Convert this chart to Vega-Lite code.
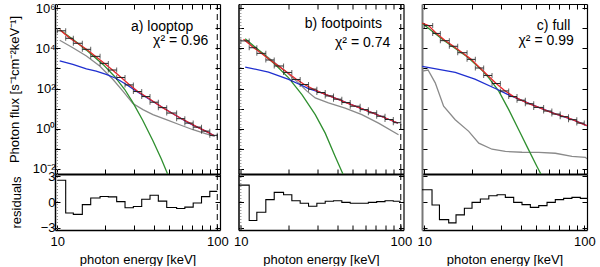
{
"$schema":"https://vega.github.io/schema/vega-lite/v6.json",
"autosize":"pad",
"padding":{"left":8,"top":2,"right":0,"bottom":0},
"spacing":4.5,
"datasets":{
"dot":[{"E":10}],
"dash":[{"E":100}],
"pts_a":[{"E":10.62,"lo":10,"hi":11.28,"F":74100},{"E":11.92,"lo":11.28,"hi":12.59,"F":31600},{"E":13.43,"lo":12.59,"hi":14.33,"F":17800},{"E":15.22,"lo":14.33,"hi":16.17,"F":8910},{"E":17.3,"lo":16.17,"hi":18.5,"F":3980},{"E":19.64,"lo":18.5,"hi":20.84,"F":1780},{"E":22.13,"lo":20.84,"hi":23.5,"F":832},{"E":24.96,"lo":23.5,"hi":26.5,"F":355},{"E":28.14,"lo":26.5,"hi":29.88,"F":151},{"E":31.73,"lo":29.88,"hi":33.7,"F":70.8},{"E":35.77,"lo":33.7,"hi":37.97,"F":39.8},{"E":40.31,"lo":37.97,"hi":42.8,"F":20.9},{"E":45.47,"lo":42.8,"hi":48.3,"F":11.2},{"E":51.87,"lo":48.3,"hi":55.7,"F":6.03},{"E":59.1,"lo":55.7,"hi":62.7,"F":3.16},{"E":66.58,"lo":62.7,"hi":70.7,"F":1.91},{"E":75.06,"lo":70.7,"hi":79.7,"F":1.2},{"E":84.6,"lo":79.7,"hi":89.8,"F":0.759},{"E":94.76,"lo":89.8,"hi":100,"F":0.468}],
"pts_b":[{"E":10.62,"lo":10,"hi":11.28,"F":23400},{"E":11.92,"lo":11.28,"hi":12.59,"F":10700},{"E":13.43,"lo":12.59,"hi":14.33,"F":5620},{"E":15.22,"lo":14.33,"hi":16.17,"F":2630},{"E":17.3,"lo":16.17,"hi":18.5,"F":1320},{"E":19.64,"lo":18.5,"hi":20.84,"F":631},{"E":22.13,"lo":20.84,"hi":23.5,"F":282},{"E":24.96,"lo":23.5,"hi":26.5,"F":158},{"E":28.14,"lo":26.5,"hi":29.88,"F":93.3},{"E":31.73,"lo":29.88,"hi":33.7,"F":63.1},{"E":35.77,"lo":33.7,"hi":37.97,"F":42.7},{"E":40.31,"lo":37.97,"hi":42.8,"F":29.5},{"E":45.47,"lo":42.8,"hi":48.3,"F":20},{"E":51.87,"lo":48.3,"hi":55.7,"F":13.2},{"E":59.1,"lo":55.7,"hi":62.7,"F":8.91},{"E":66.58,"lo":62.7,"hi":70.7,"F":6.17},{"E":75.06,"lo":70.7,"hi":79.7,"F":4.17},{"E":84.6,"lo":79.7,"hi":89.8,"F":2.88},{"E":94.76,"lo":89.8,"hi":100,"F":2.0}],
"pts_c":[{"E":10.62,"lo":10,"hi":11.28,"F":135000},{"E":11.92,"lo":11.28,"hi":12.59,"F":55000},{"E":13.43,"lo":12.59,"hi":14.33,"F":24000},{"E":15.22,"lo":14.33,"hi":16.17,"F":12600},{"E":17.3,"lo":16.17,"hi":18.5,"F":6030},{"E":19.64,"lo":18.5,"hi":20.84,"F":2820},{"E":22.13,"lo":20.84,"hi":23.5,"F":1050},{"E":24.96,"lo":23.5,"hi":26.5,"F":447},{"E":28.14,"lo":26.5,"hi":29.88,"F":178},{"E":31.73,"lo":29.88,"hi":33.7,"F":75.9},{"E":35.77,"lo":33.7,"hi":37.97,"F":39.8},{"E":40.31,"lo":37.97,"hi":42.8,"F":26.3},{"E":45.47,"lo":42.8,"hi":48.3,"F":17.4},{"E":51.87,"lo":48.3,"hi":55.7,"F":11.5},{"E":59.1,"lo":55.7,"hi":62.7,"F":7.59},{"E":66.58,"lo":62.7,"hi":70.7,"F":5.37},{"E":75.06,"lo":70.7,"hi":79.7,"F":3.98},{"E":84.6,"lo":79.7,"hi":89.8,"F":2.82},{"E":94.76,"lo":89.8,"hi":100,"F":1.91}],
"lines_a":[
{"c":"gray","E":10.35,"F":25100},{"c":"gray","E":12.5,"F":10700},{"c":"gray","E":15.2,"F":4170},{"c":"gray","E":18.4,"F":1320},{"c":"gray","E":22.3,"F":282},{"c":"gray","E":25.7,"F":74.1},{"c":"gray","E":29.7,"F":17.8},{"c":"gray","E":34.3,"F":8.91},{"c":"gray","E":39.6,"F":5.01},{"c":"gray","E":48,"F":2.82},{"c":"gray","E":58.2,"F":1.58},{"c":"gray","E":70.5,"F":0.891},{"c":"gray","E":85.3,"F":0.562},{"c":"gray","E":96.3,"F":0.417},
{"c":"green","E":10.35,"F":83200},{"c":"green","E":12.5,"F":28200},{"c":"green","E":15.2,"F":8130},{"c":"green","E":19.3,"F":1580},{"c":"green","E":22.8,"F":398},{"c":"green","E":26.4,"F":89.1},{"c":"green","E":29.7,"F":19.95},{"c":"green","E":34.3,"F":2.51},{"c":"green","E":39.6,"F":0.251},{"c":"green","E":44.7,"F":0.0316},{"c":"green","E":49.2,"F":0.00501},{"c":"green","E":53,"F":0.001},
{"c":"blue","E":10.35,"F":2340},{"c":"blue","E":12.5,"F":1580},{"c":"blue","E":15.2,"F":955},{"c":"blue","E":17.5,"F":741},{"c":"blue","E":20.2,"F":501},{"c":"blue","E":23.4,"F":316},{"c":"blue","E":27,"F":158},{"c":"blue","E":31.2,"F":74.1},{"c":"blue","E":40.31,"F":20.9},{"c":"blue","E":51.87,"F":6.03},{"c":"blue","E":66.58,"F":1.91},{"c":"blue","E":84.6,"F":0.759},{"c":"blue","E":96,"F":0.447},
{"c":"red","E":10.35,"F":83200},{"c":"red","E":11.92,"F":33100},{"c":"red","E":13.43,"F":17400},{"c":"red","E":15.22,"F":8910},{"c":"red","E":17.3,"F":3980},{"c":"red","E":19.64,"F":1820},{"c":"red","E":22.13,"F":832},{"c":"red","E":24.96,"F":363},{"c":"red","E":28.14,"F":158},{"c":"red","E":31.73,"F":72.4},{"c":"red","E":35.77,"F":39.8},{"c":"red","E":40.31,"F":21.4},{"c":"red","E":45.47,"F":11.2},{"c":"red","E":51.87,"F":6.03},{"c":"red","E":59.1,"F":3.31},{"c":"red","E":66.58,"F":2.0},{"c":"red","E":75.06,"F":1.2},{"c":"red","E":84.6,"F":0.759},{"c":"red","E":96,"F":0.447}],
"lines_b":[
{"c":"gray","E":10.65,"F":25100},{"c":"gray","E":14.9,"F":3390},{"c":"gray","E":18.95,"F":741},{"c":"gray","E":22.9,"F":191},{"c":"gray","E":25.9,"F":74.1},{"c":"gray","E":29.2,"F":33.9},{"c":"gray","E":35.3,"F":19.1},{"c":"gray","E":44.9,"F":10.7},{"c":"gray","E":57.1,"F":5.01},{"c":"gray","E":72.6,"F":1.91},{"c":"gray","E":96.8,"F":0.501},
{"c":"green","E":10.65,"F":30200},{"c":"green","E":13.55,"F":6030},{"c":"green","E":16.4,"F":1580},{"c":"green","E":19.9,"F":339},{"c":"green","E":24.1,"F":50.1},{"c":"green","E":29.2,"F":5.01},{"c":"green","E":33.7,"F":0.603},{"c":"green","E":38.9,"F":0.0417},{"c":"green","E":43.2,"F":0.00631},{"c":"green","E":46,"F":0.00158},
{"c":"blue","E":10.65,"F":1170},{"c":"blue","E":14.9,"F":661},{"c":"blue","E":19.9,"F":282},{"c":"blue","E":24.1,"F":141},{"c":"blue","E":26.5,"F":100},{"c":"blue","E":31.73,"F":63.1},{"c":"blue","E":40.31,"F":29.5},{"c":"blue","E":51.87,"F":13.2},{"c":"blue","E":66.58,"F":6.17},{"c":"blue","E":84.6,"F":2.88},{"c":"blue","E":96,"F":1.91},
{"c":"red","E":10.4,"F":28200},{"c":"red","E":11.92,"F":11200},{"c":"red","E":13.43,"F":5620},{"c":"red","E":15.22,"F":2630},{"c":"red","E":17.3,"F":1260},{"c":"red","E":19.64,"F":603},{"c":"red","E":22.13,"F":295},{"c":"red","E":24.96,"F":158},{"c":"red","E":28.14,"F":95.5},{"c":"red","E":31.73,"F":63.1},{"c":"red","E":35.77,"F":42.7},{"c":"red","E":40.31,"F":29.5},{"c":"red","E":45.47,"F":20},{"c":"red","E":51.87,"F":13.2},{"c":"red","E":59.1,"F":8.91},{"c":"red","E":66.58,"F":6.17},{"c":"red","E":75.06,"F":4.17},{"c":"red","E":84.6,"F":2.88},{"c":"red","E":96,"F":1.91}],
"lines_c":[
{"c":"gray","E":9.7,"F":741},{"c":"gray","E":10.55,"F":832},{"c":"gray","E":11.7,"F":191},{"c":"gray","E":13.2,"F":13.2},{"c":"gray","E":15.6,"F":2.82},{"c":"gray","E":18.95,"F":0.741},{"c":"gray","E":21.9,"F":0.191},{"c":"gray","E":26.5,"F":0.0955},{"c":"gray","E":32.1,"F":0.0741},{"c":"gray","E":40.8,"F":0.0676},{"c":"gray","E":51.9,"F":0.0661},{"c":"gray","E":65.9,"F":0.0603},{"c":"gray","E":83.8,"F":0.0417},{"c":"gray","E":101.6,"F":0.038},{"c":"gray","E":104,"F":0.0316},
{"c":"green","E":9.7,"F":174000},{"c":"green","E":13.2,"F":25100},{"c":"green","E":18.7,"F":3630},{"c":"green","E":23.2,"F":741},{"c":"green","E":25.3,"F":339},{"c":"green","E":29.2,"F":74.1},{"c":"green","E":33.7,"F":8.91},{"c":"green","E":38.9,"F":0.891},{"c":"green","E":44.9,"F":0.0891},{"c":"green","E":50.6,"F":0.0132},{"c":"green","E":53.9,"F":0.00501},{"c":"green","E":57,"F":0.00158},
{"c":"blue","E":9.7,"F":1260},{"c":"blue","E":15.6,"F":631},{"c":"blue","E":20.7,"F":295},{"c":"blue","E":27.8,"F":100},{"c":"blue","E":32.9,"F":52.5},{"c":"blue","E":40.31,"F":26.3},{"c":"blue","E":51.87,"F":11.5},{"c":"blue","E":66.58,"F":5.37},{"c":"blue","E":84.6,"F":2.82},{"c":"blue","E":104,"F":1.41},
{"c":"red","E":9.7,"F":178000},{"c":"red","E":10.62,"F":135000},{"c":"red","E":11.92,"F":55000},{"c":"red","E":13.43,"F":25100},{"c":"red","E":15.22,"F":12600},{"c":"red","E":17.3,"F":6030},{"c":"red","E":19.64,"F":2820},{"c":"red","E":22.13,"F":1120},{"c":"red","E":24.96,"F":447},{"c":"red","E":28.14,"F":178},{"c":"red","E":31.73,"F":79.4},{"c":"red","E":35.77,"F":41.7},{"c":"red","E":40.31,"F":26.3},{"c":"red","E":45.47,"F":17.4},{"c":"red","E":51.87,"F":11.5},{"c":"red","E":59.1,"F":7.59},{"c":"red","E":66.58,"F":5.37},{"c":"red","E":75.06,"F":3.98},{"c":"red","E":84.6,"F":2.82},{"c":"red","E":94.76,"F":1.91},{"c":"red","E":104,"F":1.41}],
"res_a":[{"E":10,"r":2.52},{"E":11.28,"r":-1.27},{"E":12.59,"r":-1.44},{"E":14.33,"r":-0.3},{"E":16.17,"r":0.46},{"E":18.5,"r":0.63},{"E":20.84,"r":0.6},{"E":23.5,"r":0.04},{"E":26.5,"r":-0.67},{"E":29.88,"r":-0.52},{"E":33.7,"r":0.32},{"E":37.97,"r":0.79},{"E":42.8,"r":0.1},{"E":48.3,"r":-0.63},{"E":55.7,"r":-0.75},{"E":62.7,"r":-0.6},{"E":70.7,"r":-0.12},{"E":79.7,"r":0.62},{"E":89.8,"r":1.23},{"E":100,"r":1.23}],
"res_b":[{"E":9.7,"r":1.96},{"E":11.28,"r":-2.15},{"E":12.59,"r":-1.19},{"E":14.33,"r":0.27},{"E":16.17,"r":1.12},{"E":18.5,"r":0.85},{"E":20.84,"r":0.15},{"E":23.5,"r":-0.15},{"E":26.5,"r":-0.5},{"E":29.88,"r":-0.15},{"E":33.7,"r":0.08},{"E":37.97,"r":0.15},{"E":42.8,"r":-0.04},{"E":48.3,"r":-0.15},{"E":55.7,"r":-0.15},{"E":62.7,"r":-0.04},{"E":70.7,"r":0.04},{"E":79.7,"r":0.15},{"E":89.8,"r":0.08},{"E":100,"r":0.08}],
"res_c":[{"E":9.67,"r":1.42},{"E":11.17,"r":-0.35},{"E":12.43,"r":-2.04},{"E":14.2,"r":-2.42},{"E":15.78,"r":-1.5},{"E":17.8,"r":-0.73},{"E":19.87,"r":-0.04},{"E":22.4,"r":0.35},{"E":25.3,"r":0.73},{"E":28.5,"r":0.85},{"E":32.1,"r":0.54},{"E":36.2,"r":-0.04},{"E":40.8,"r":-0.31},{"E":46,"r":-0.62},{"E":51.9,"r":-0.42},{"E":58.5,"r":-0.04},{"E":65.9,"r":0.27},{"E":74.3,"r":0.42},{"E":83.7,"r":0.54},{"E":94.5,"r":0.42},{"E":104,"r":0.42}],
"txt_a":[{"E":70.8,"F":112000,"t":"a) looptop"},{"E":87.9,"F":22400,"t":"χ² = 0.96"}],
"txt_b":[{"E":76.2,"F":158000,"t":"b) footpoints"},{"E":85.9,"F":19300,"t":"χ² = 0.74"}],
"txt_c":[{"E":81.8,"F":130000,"t":"c) full"},{"E":85.9,"F":23200,"t":"χ² = 0.99"}]
},
"hconcat":[
{"bounds":"flush","spacing":0,"vconcat":[
 {"width":165,"height":170,"resolve":{"axis":{"x":"independent","y":"independent"}},"layer":[
  {"data":{"name":"dot"},"mark":{"type":"rule","color":"#777","strokeDash":[1,2],"strokeWidth":1},"encoding":{"x":{"field":"E","type":"quantitative","scale":{"type":"log","domain":[9.67,104],"nice":false},"axis":null}}},
  {"data":{"name":"dash"},"mark":{"type":"rule","color":"#000","strokeDash":[6,4],"strokeWidth":1},"encoding":{"x":{"field":"E","type":"quantitative","scale":{"type":"log","domain":[9.67,104],"nice":false},"axis":null}}},
  {"data":{"name":"lines_a"},"mark":{"type":"line","clip":true,"strokeWidth":1.3},"encoding":{"x":{"field":"E","type":"quantitative","scale":{"type":"log","domain":[9.67,104],"nice":false},"axis":{"orient":"bottom","values":[10,20,30,40,50,60,70,80,90,100],"labels":false,"title":null,"tickSize":-5,"domainWidth":2}},"y":{"field":"F","type":"quantitative","scale":{"type":"log","domain":[0.0056,1600000],"nice":false},"axis":{"orient":"left","values":[0.01,0.1,1,10,100,1000,10000,100000,1000000],"labelExpr":"['10⁻²','','10⁰','','10²','','10⁴','','10⁶'][round(log(datum.value)/LN10)+2]","title":"Photon flux [s⁻¹cm⁻²keV⁻¹]","tickSize":-5,"labelPadding":5,"titlePadding":11,"domainWidth":1.5}},"color":{"field":"c","type":"nominal","scale":{"domain":["gray","green","blue","red"],"range":["#8a8a8a","#2f8f2f","#1f2fd0","#e8262a"]},"legend":null}}},
  {"data":{"name":"pts_a"},"mark":{"type":"rule","color":"#222","strokeWidth":1},"encoding":{"x":{"field":"lo","type":"quantitative","scale":{"type":"log","domain":[9.67,104],"nice":false},"axis":null},"x2":{"field":"hi"},"y":{"field":"F","type":"quantitative","scale":{"type":"log","domain":[0.0056,1600000],"nice":false},"axis":null}}},
  {"data":{"name":"pts_a"},"mark":{"type":"tick","orient":"vertical","size":5,"thickness":1,"color":"#222"},"encoding":{"x":{"field":"lo","type":"quantitative","scale":{"type":"log","domain":[9.67,104],"nice":false},"axis":null},"y":{"field":"F","type":"quantitative","scale":{"type":"log","domain":[0.0056,1600000],"nice":false},"axis":null}}},
  {"data":{"name":"pts_a"},"mark":{"type":"tick","orient":"vertical","size":5,"thickness":1,"color":"#222"},"encoding":{"x":{"field":"hi","type":"quantitative","scale":{"type":"log","domain":[9.67,104],"nice":false},"axis":null},"y":{"field":"F","type":"quantitative","scale":{"type":"log","domain":[0.0056,1600000],"nice":false},"axis":null}}},
  {"data":{"name":"txt_a"},"mark":{"type":"text","align":"right","baseline":"middle","fontSize":14,"font":"Liberation Sans","color":"#000"},"encoding":{"x":{"field":"E","type":"quantitative","scale":{"type":"log","domain":[9.67,104],"nice":false},"axis":null},"y":{"field":"F","type":"quantitative","scale":{"type":"log","domain":[0.0056,1600000],"nice":false},"axis":null},"text":{"field":"t"}}},
  {"data":{"name":"pts_a"},"mark":{"type":"point","opacity":0},"encoding":{"x":{"field":"E","type":"quantitative","scale":{"type":"log","domain":[9.67,104],"nice":false},"axis":{"orient":"top","values":[10,20,30,40,50,60,70,80,90,100],"labels":false,"title":null,"tickSize":-5,"domainWidth":1.2}},"y":{"field":"F","type":"quantitative","scale":{"type":"log","domain":[0.0056,1600000],"nice":false},"axis":{"orient":"right","values":[0.01,0.1,1,10,100,1000,10000,100000,1000000],"labels":false,"title":null,"tickSize":-5,"domainWidth":1.2}}}}
 ]},
 {"width":165,"height":56,"resolve":{"axis":{"x":"independent","y":"independent"}},"layer":[
  {"data":{"name":"dot"},"mark":{"type":"rule","color":"#777","strokeDash":[1,2],"strokeWidth":1},"encoding":{"x":{"field":"E","type":"quantitative","scale":{"type":"log","domain":[9.67,104],"nice":false},"axis":null}}},
  {"data":{"name":"dash"},"mark":{"type":"rule","color":"#000","strokeDash":[6,4],"strokeWidth":1},"encoding":{"x":{"field":"E","type":"quantitative","scale":{"type":"log","domain":[9.67,104],"nice":false},"axis":null}}},
  {"data":{"name":"res_a"},"mark":{"type":"line","interpolate":"step-after","color":"#000","strokeWidth":1.1,"clip":true},"encoding":{"x":{"field":"E","type":"quantitative","scale":{"type":"log","domain":[9.67,104],"nice":false},"axis":{"orient":"bottom","values":[10,20,30,40,50,60,70,80,90,100],"labelExpr":"datum.value==10?'10':datum.value==100?'100':''","title":"photon energy [keV]","tickSize":-5,"labelPadding":10,"titlePadding":5,"domainWidth":1.5}},"y":{"field":"r","type":"quantitative","scale":{"domain":[-3.25,3.25],"nice":false,"zero":false},"axis":{"orient":"left","values":[-3,0,3],"title":"residuals","tickSize":-5,"labelPadding":5,"titlePadding":17,"domainWidth":1.5}}}},
  {"data":{"name":"res_a"},"mark":{"type":"point","opacity":0},"encoding":{"x":{"field":"E","type":"quantitative","scale":{"type":"log","domain":[9.67,104],"nice":false},"axis":null},"y":{"field":"r","type":"quantitative","scale":{"domain":[-3.25,3.25],"nice":false,"zero":false},"axis":{"orient":"right","values":[-3,0,3],"labels":false,"title":null,"tickSize":-5,"domainWidth":1.2}}}}
 ]}
]},
{"bounds":"flush","spacing":0,"vconcat":[
 {"width":165,"height":170,"resolve":{"axis":{"x":"independent","y":"independent"}},"layer":[
  {"data":{"name":"dot"},"mark":{"type":"rule","color":"#777","strokeDash":[1,2],"strokeWidth":1},"encoding":{"x":{"field":"E","type":"quantitative","scale":{"type":"log","domain":[9.67,104],"nice":false},"axis":null}}},
  {"data":{"name":"dash"},"mark":{"type":"rule","color":"#000","strokeDash":[6,4],"strokeWidth":1},"encoding":{"x":{"field":"E","type":"quantitative","scale":{"type":"log","domain":[9.67,104],"nice":false},"axis":null}}},
  {"data":{"name":"lines_b"},"mark":{"type":"line","clip":true,"strokeWidth":1.3},"encoding":{"x":{"field":"E","type":"quantitative","scale":{"type":"log","domain":[9.67,104],"nice":false},"axis":{"orient":"bottom","values":[10,20,30,40,50,60,70,80,90,100],"labels":false,"title":null,"tickSize":-5,"domainWidth":2}},"y":{"field":"F","type":"quantitative","scale":{"type":"log","domain":[0.0056,1600000],"nice":false},"axis":{"orient":"left","values":[0.01,0.1,1,10,100,1000,10000,100000,1000000],"labels":false,"title":null,"tickSize":-5,"domainWidth":1.5}},"color":{"field":"c","type":"nominal","scale":{"domain":["gray","green","blue","red"],"range":["#8a8a8a","#2f8f2f","#1f2fd0","#e8262a"]},"legend":null}}},
  {"data":{"name":"pts_b"},"mark":{"type":"rule","color":"#222","strokeWidth":1},"encoding":{"x":{"field":"lo","type":"quantitative","scale":{"type":"log","domain":[9.67,104],"nice":false},"axis":null},"x2":{"field":"hi"},"y":{"field":"F","type":"quantitative","scale":{"type":"log","domain":[0.0056,1600000],"nice":false},"axis":null}}},
  {"data":{"name":"pts_b"},"mark":{"type":"tick","orient":"vertical","size":5,"thickness":1,"color":"#222"},"encoding":{"x":{"field":"lo","type":"quantitative","scale":{"type":"log","domain":[9.67,104],"nice":false},"axis":null},"y":{"field":"F","type":"quantitative","scale":{"type":"log","domain":[0.0056,1600000],"nice":false},"axis":null}}},
  {"data":{"name":"pts_b"},"mark":{"type":"tick","orient":"vertical","size":5,"thickness":1,"color":"#222"},"encoding":{"x":{"field":"hi","type":"quantitative","scale":{"type":"log","domain":[9.67,104],"nice":false},"axis":null},"y":{"field":"F","type":"quantitative","scale":{"type":"log","domain":[0.0056,1600000],"nice":false},"axis":null}}},
  {"data":{"name":"txt_b"},"mark":{"type":"text","align":"right","baseline":"middle","fontSize":14,"font":"Liberation Sans","color":"#000"},"encoding":{"x":{"field":"E","type":"quantitative","scale":{"type":"log","domain":[9.67,104],"nice":false},"axis":null},"y":{"field":"F","type":"quantitative","scale":{"type":"log","domain":[0.0056,1600000],"nice":false},"axis":null},"text":{"field":"t"}}},
  {"data":{"name":"pts_b"},"mark":{"type":"point","opacity":0},"encoding":{"x":{"field":"E","type":"quantitative","scale":{"type":"log","domain":[9.67,104],"nice":false},"axis":{"orient":"top","values":[10,20,30,40,50,60,70,80,90,100],"labels":false,"title":null,"tickSize":-5,"domainWidth":1.2}},"y":{"field":"F","type":"quantitative","scale":{"type":"log","domain":[0.0056,1600000],"nice":false},"axis":{"orient":"right","values":[0.01,0.1,1,10,100,1000,10000,100000,1000000],"labels":false,"title":null,"tickSize":-5,"domainWidth":1.2}}}}
 ]},
 {"width":165,"height":56,"resolve":{"axis":{"x":"independent","y":"independent"}},"layer":[
  {"data":{"name":"dot"},"mark":{"type":"rule","color":"#777","strokeDash":[1,2],"strokeWidth":1},"encoding":{"x":{"field":"E","type":"quantitative","scale":{"type":"log","domain":[9.67,104],"nice":false},"axis":null}}},
  {"data":{"name":"dash"},"mark":{"type":"rule","color":"#000","strokeDash":[6,4],"strokeWidth":1},"encoding":{"x":{"field":"E","type":"quantitative","scale":{"type":"log","domain":[9.67,104],"nice":false},"axis":null}}},
  {"data":{"name":"res_b"},"mark":{"type":"line","interpolate":"step-after","color":"#000","strokeWidth":1.1,"clip":true},"encoding":{"x":{"field":"E","type":"quantitative","scale":{"type":"log","domain":[9.67,104],"nice":false},"axis":{"orient":"bottom","values":[10,20,30,40,50,60,70,80,90,100],"labelExpr":"datum.value==10?'10':datum.value==100?'100':''","title":"photon energy [keV]","tickSize":-5,"labelPadding":10,"titlePadding":5,"domainWidth":1.5}},"y":{"field":"r","type":"quantitative","scale":{"domain":[-3.25,3.25],"nice":false,"zero":false},"axis":{"orient":"left","values":[-3,0,3],"labels":false,"title":null,"tickSize":-5,"domainWidth":1.5}}}},
  {"data":{"name":"res_b"},"mark":{"type":"point","opacity":0},"encoding":{"x":{"field":"E","type":"quantitative","scale":{"type":"log","domain":[9.67,104],"nice":false},"axis":null},"y":{"field":"r","type":"quantitative","scale":{"domain":[-3.25,3.25],"nice":false,"zero":false},"axis":{"orient":"right","values":[-3,0,3],"labels":false,"title":null,"tickSize":-5,"domainWidth":1.2}}}}
 ]}
]},
{"bounds":"flush","spacing":0,"vconcat":[
 {"width":165,"height":170,"resolve":{"axis":{"x":"independent","y":"independent"}},"layer":[
  {"data":{"name":"lines_c"},"mark":{"type":"line","clip":true,"strokeWidth":1.3},"encoding":{"x":{"field":"E","type":"quantitative","scale":{"type":"log","domain":[9.67,104],"nice":false},"axis":{"orient":"bottom","values":[10,20,30,40,50,60,70,80,90,100],"labels":false,"title":null,"tickSize":-5,"domainWidth":2}},"y":{"field":"F","type":"quantitative","scale":{"type":"log","domain":[0.0056,1600000],"nice":false},"axis":{"orient":"left","values":[0.01,0.1,1,10,100,1000,10000,100000,1000000],"labels":false,"title":null,"tickSize":-5,"domainWidth":2,"domainColor":"#777"}},"color":{"field":"c","type":"nominal","scale":{"domain":["gray","green","blue","red"],"range":["#8a8a8a","#2f8f2f","#1f2fd0","#e8262a"]},"legend":null}}},
  {"data":{"name":"pts_c"},"mark":{"type":"rule","color":"#222","strokeWidth":1},"encoding":{"x":{"field":"lo","type":"quantitative","scale":{"type":"log","domain":[9.67,104],"nice":false},"axis":null},"x2":{"field":"hi"},"y":{"field":"F","type":"quantitative","scale":{"type":"log","domain":[0.0056,1600000],"nice":false},"axis":null}}},
  {"data":{"name":"pts_c"},"mark":{"type":"tick","orient":"vertical","size":5,"thickness":1,"color":"#222"},"encoding":{"x":{"field":"lo","type":"quantitative","scale":{"type":"log","domain":[9.67,104],"nice":false},"axis":null},"y":{"field":"F","type":"quantitative","scale":{"type":"log","domain":[0.0056,1600000],"nice":false},"axis":null}}},
  {"data":{"name":"pts_c"},"mark":{"type":"tick","orient":"vertical","size":5,"thickness":1,"color":"#222"},"encoding":{"x":{"field":"hi","type":"quantitative","scale":{"type":"log","domain":[9.67,104],"nice":false},"axis":null},"y":{"field":"F","type":"quantitative","scale":{"type":"log","domain":[0.0056,1600000],"nice":false},"axis":null}}},
  {"data":{"name":"txt_c"},"mark":{"type":"text","align":"right","baseline":"middle","fontSize":14,"font":"Liberation Sans","color":"#000"},"encoding":{"x":{"field":"E","type":"quantitative","scale":{"type":"log","domain":[9.67,104],"nice":false},"axis":null},"y":{"field":"F","type":"quantitative","scale":{"type":"log","domain":[0.0056,1600000],"nice":false},"axis":null},"text":{"field":"t"}}},
  {"data":{"name":"pts_c"},"mark":{"type":"point","opacity":0},"encoding":{"x":{"field":"E","type":"quantitative","scale":{"type":"log","domain":[9.67,104],"nice":false},"axis":{"orient":"top","values":[10,20,30,40,50,60,70,80,90,100],"labels":false,"title":null,"tickSize":-5,"domainWidth":1.2}},"y":{"field":"F","type":"quantitative","scale":{"type":"log","domain":[0.0056,1600000],"nice":false},"axis":{"orient":"right","values":[0.01,0.1,1,10,100,1000,10000,100000,1000000],"labels":false,"title":null,"tickSize":-5,"domainWidth":1.2}}}}
 ]},
 {"width":165,"height":56,"resolve":{"axis":{"x":"independent","y":"independent"}},"layer":[
  {"data":{"name":"res_c"},"mark":{"type":"line","interpolate":"step-after","color":"#000","strokeWidth":1.1,"clip":true},"encoding":{"x":{"field":"E","type":"quantitative","scale":{"type":"log","domain":[9.67,104],"nice":false},"axis":{"orient":"bottom","values":[10,20,30,40,50,60,70,80,90,100],"labelExpr":"datum.value==10?'10':datum.value==100?'100':''","title":"photon energy [keV]","tickSize":-5,"labelPadding":10,"titlePadding":5,"domainWidth":1.5}},"y":{"field":"r","type":"quantitative","scale":{"domain":[-3.25,3.25],"nice":false,"zero":false},"axis":{"orient":"left","values":[-3,0,3],"labels":false,"title":null,"tickSize":-5,"domainWidth":2,"domainColor":"#777"}}}},
  {"data":{"name":"res_c"},"mark":{"type":"point","opacity":0},"encoding":{"x":{"field":"E","type":"quantitative","scale":{"type":"log","domain":[9.67,104],"nice":false},"axis":null},"y":{"field":"r","type":"quantitative","scale":{"domain":[-3.25,3.25],"nice":false,"zero":false},"axis":{"orient":"right","values":[-3,0,3],"labels":false,"title":null,"tickSize":-5,"domainWidth":1.2}}}}
 ]}
]}
],
"config":{
 "view":{"stroke":null},
 "font":"Liberation Sans",
 "axis":{"grid":false,"domainColor":"#000","tickColor":"#000","labelColor":"#000","titleColor":"#000","labelFont":"Liberation Sans","titleFont":"Liberation Sans","labelFontSize":13,"titleFontSize":13,"titleFontWeight":"normal","labelOverlap":false,"labelFlush":false,"tickWidth":1}
}
}
